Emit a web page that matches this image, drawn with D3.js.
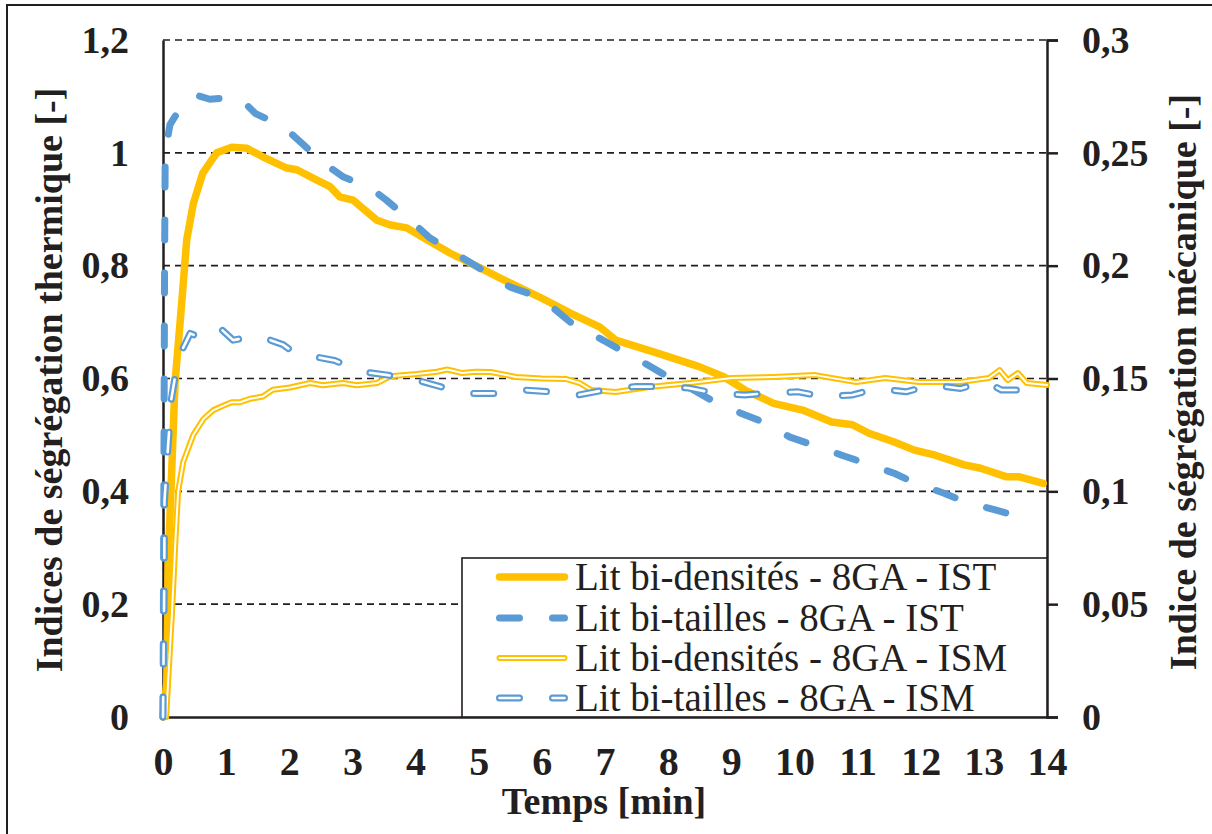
<!DOCTYPE html>
<html>
<head>
<meta charset="utf-8">
<script src="https://cdn.jsdelivr.net/npm/d3@7"></script>
<style>
  html, body { margin: 0; padding: 0; background: #fff; }
  svg { display: block; }
</style>
</head>
<body>
<svg id="chart" width="1212" height="834"></svg>
<script>
// Time axis ticks (minutes) and value ticks for both axes
const timeTicks = [0,1,2,3,4,5,6,7,8,9,10,11,12,13,14];
const leftTicks = [0,0.2,0.4,0.6,0.8,1,1.2];
const rightTicks = [0,0.05,0.1,0.15,0.2,0.25,0.3];

// Series 1: Lit bi-densités - 8GA - IST (left axis)
const tDensIST = [0,0.06,0.08,0.14,0.19,0.3,0.375,0.48,0.63,0.85,1.09,1.33,1.58,1.96,2.12,2.43,2.645,2.8,3.01,3.38,3.6,3.86,4.18,4.55,5.02,5.34,5.97,6.45,6.92,7.17,7.83,8.49,8.88,9.21,9.67,10.13,10.59,10.92,11.18,11.57,11.9,12.23,12.69,12.95,13.35,13.55,13.94];
const densIST  = [0,0.06,0.266,0.443,0.592,0.739,0.845,0.91,0.964,1.0,1.01,1.008,0.993,0.973,0.97,0.952,0.94,0.922,0.916,0.881,0.872,0.867,0.846,0.822,0.796,0.778,0.744,0.716,0.691,0.668,0.645,0.621,0.603,0.58,0.556,0.544,0.523,0.518,0.503,0.488,0.473,0.464,0.447,0.441,0.426,0.426,0.414];

// Series 2: Lit bi-tailles - 8GA - IST (left axis)
const tTailIST = [0,0.015,0.025,0.035,0.11,0.25,0.43,0.53,0.74,1.0,1.22,1.46,1.91,2.17,2.54,2.86,3.28,3.54,3.96,4.23,4.86,5.5,5.97,6.45,7.0,7.63,7.89,8.35,8.68,9.14,9.5,9.93,10.3,10.75,11.12,11.58,11.9,12.36,12.72,13.18,13.64];
const tailIST  = [0,0.45,0.8,1.0,1.05,1.075,1.09,1.102,1.095,1.097,1.097,1.07,1.046,1.02,0.982,0.957,0.938,0.916,0.876,0.849,0.806,0.762,0.744,0.70,0.666,0.627,0.61,0.583,0.562,0.539,0.523,0.496,0.482,0.464,0.45,0.432,0.415,0.397,0.381,0.367,0.353];

// Series 3: Lit bi-densités - 8GA - ISM (right axis)
const tDensISM = [0,0.05,0.14,0.2,0.24,0.32,0.48,0.64,0.8,0.96,1.09,1.22,1.38,1.58,1.74,2.01,2.33,2.53,2.85,3.07,3.39,3.6,4.02,4.34,4.5,4.74,4.95,5.19,5.59,6.0,6.38,6.6,6.78,7.17,7.7,8.35,9.01,9.67,10.33,10.98,11.44,11.97,12.62,13.08,13.25,13.38,13.54,13.68,14.0];
const densISM  = [0,0,0.045,0.08,0.1,0.113,0.125,0.132,0.136,0.138,0.1395,0.1395,0.141,0.142,0.145,0.146,0.148,0.147,0.148,0.147,0.148,0.151,0.152,0.153,0.154,0.1524,0.153,0.1529,0.1507,0.150,0.1498,0.148,0.1449,0.144,0.1462,0.148,0.1502,0.1507,0.1515,0.1484,0.1502,0.1484,0.1484,0.1502,0.1537,0.1493,0.1524,0.148,0.1471];

// Series 4: Lit bi-tailles - 8GA - ISM (right axis)
const tTailISM = [0,0.02,0.024,0.07,0.13,0.24,0.43,0.6,0.71,0.9,1.11,1.3,1.5,1.9,2.1,2.33,2.72,3.15,3.56,4.02,4.42,4.87,5.26,5.73,6.12,6.58,7.0,7.47,7.86,8.32,8.72,9.21,9.6,10.06,10.46,10.92,11.31,11.77,12.17,12.63,13.02,13.28,13.87];
const tailISM  = [0,0.06,0.096,0.1157,0.1405,0.159,0.170,0.168,0.169,0.1724,0.167,0.168,0.169,0.165,0.161,0.160,0.158,0.153,0.1515,0.1493,0.1462,0.1434,0.1434,0.1449,0.1441,0.1427,0.1449,0.1464,0.1464,0.1458,0.1436,0.1427,0.1436,0.1441,0.1419,0.1427,0.1456,0.1441,0.1471,0.1456,0.1486,0.1449,0.1449];

const legendLabels = [
  "Lit bi-densités - 8GA - IST",
  "Lit bi-tailles - 8GA - IST",
  "Lit bi-densités - 8GA - ISM",
  "Lit bi-tailles - 8GA - ISM"
];

const ORANGE = "#FFC000";
const BLUE = "#5B9BD5";
const INK = "#231f20";
const DASH = "20,33";
const SERIF = "'Liberation Serif', 'Times New Roman', serif";

const svg = d3.select("#chart");
const plot = { left: 163, right: 1047, top: 40, bottom: 717 };

const x = d3.scaleLinear().domain([0, 14]).range([plot.left, plot.right]);
const yL = d3.scaleLinear().domain([0, 1.2]).range([plot.bottom, plot.top]);
const yR = d3.scaleLinear().domain([0, 0.3]).range([plot.bottom, plot.top]);

const comma = d => String(d).replace(".", ",");

// Outer frame
svg.append("rect")
  .attr("x", 7).attr("y", 5).attr("width", 1230).attr("height", 850)
  .attr("fill", "none").attr("stroke", INK).attr("stroke-width", 2);

// Dashed horizontal gridlines
svg.append("g")
  .selectAll("line")
  .data(leftTicks.filter(d => d > 0))
  .join("line")
  .attr("x1", plot.left).attr("x2", plot.right)
  .attr("y1", d => yL(d)).attr("y2", d => yL(d))
  .attr("stroke", INK).attr("stroke-width", 1.6)
  .attr("stroke-dasharray", "7,5");

function styleTicks(g, size) {
  g.selectAll("text")
    .attr("font-family", SERIF).attr("font-weight", "bold")
    .attr("font-size", size).attr("fill", INK);
}

// Left axis
const leftAxis = svg.append("g")
  .attr("transform", `translate(${plot.left},0)`)
  .call(d3.axisLeft(yL).tickValues(leftTicks).tickSize(0).tickPadding(34).tickFormat(comma));
leftAxis.select(".domain").attr("stroke", INK).attr("stroke-width", 2.5);
styleTicks(leftAxis, 38);

// Right axis
const rightAxis = svg.append("g")
  .attr("transform", `translate(${plot.right},0)`)
  .call(d3.axisRight(yR).tickValues(rightTicks).tickSize(11).tickPadding(24).tickFormat(comma));
rightAxis.select(".domain").attr("stroke", INK).attr("stroke-width", 2.5);
rightAxis.selectAll(".tick line").attr("stroke", INK).attr("stroke-width", 2.5);
styleTicks(rightAxis, 38);

// Bottom axis
const bottomAxis = svg.append("g")
  .attr("transform", `translate(0,${plot.bottom})`)
  .call(d3.axisBottom(x).tickValues(timeTicks).tickSize(0).tickPadding(30).tickFormat(d3.format("d")));
bottomAxis.select(".domain").attr("stroke", INK).attr("stroke-width", 2.5);
styleTicks(bottomAxis, 40);

// Axis titles
const titles = svg.append("g")
  .attr("font-family", SERIF).attr("font-weight", "bold")
  .attr("font-size", 38).attr("fill", INK).attr("text-anchor", "middle");
titles.append("text")
  .attr("transform", "translate(62,380) rotate(-90)")
  .text("Indices de ségrégation thermique [-]");
titles.append("text")
  .attr("transform", "translate(1196,382) rotate(-90)")
  .text("Indice de ségrégation mécanique [-]");
titles.append("text")
  .attr("x", 604).attr("y", 814)
  .text("Temps [min]");

// Series lines
const pts = (ts, vs) => ts.map((t, i) => [t, vs[i]]);
const lineL = d3.line().x(d => x(d[0])).y(d => yL(d[1]));
const lineR = d3.line().x(d => x(d[0])).y(d => yR(d[1]));
const lines = svg.append("g").attr("fill", "none")
  .attr("stroke-linecap", "round").attr("stroke-linejoin", "round");

lines.append("path").attr("d", lineL(pts(tDensIST, densIST)))
  .attr("stroke", ORANGE).attr("stroke-width", 7.5);

lines.append("path").attr("d", lineL(pts(tTailIST, tailIST)))
  .attr("stroke", BLUE).attr("stroke-width", 7).attr("stroke-dasharray", DASH);

// double (outlined) lines: coloured stroke with a thin white core
const dISM = lineR(pts(tDensISM, densISM));
lines.append("path").attr("d", dISM).attr("stroke", ORANGE).attr("stroke-width", 6);
lines.append("path").attr("d", dISM).attr("stroke", "#fff").attr("stroke-width", 2);

const tISM = lineR(pts(tTailISM, tailISM));
lines.append("path").attr("d", tISM).attr("stroke", BLUE).attr("stroke-width", 7)
  .attr("stroke-dasharray", DASH);
lines.append("path").attr("d", tISM).attr("stroke", "#fff").attr("stroke-width", 2.6)
  .attr("stroke-dasharray", DASH);

// Legend
const legend = svg.append("g");
legend.append("rect")
  .attr("x", 462).attr("y", 558).attr("width", 585).attr("height", 159)
  .attr("fill", "#fff").attr("stroke", INK).attr("stroke-width", 1.6);

const rowY = [577, 618, 658, 698];
const styles = [
  [{ stroke: ORANGE, w: 7.5 }],
  [{ stroke: BLUE, w: 7, dash: DASH }],
  [{ stroke: ORANGE, w: 6 }, { stroke: "#fff", w: 2 }],
  [{ stroke: BLUE, w: 7, dash: DASH }, { stroke: "#fff", w: 2.6, dash: DASH }]
];
legendLabels.forEach((label, i) => {
  styles[i].forEach(s => {
    legend.append("line")
      .attr("x1", 499.5).attr("x2", 564.5)
      .attr("y1", rowY[i]).attr("y2", rowY[i])
      .attr("stroke", s.stroke).attr("stroke-width", s.w)
      .attr("stroke-linecap", "round")
      .attr("stroke-dasharray", s.dash || null);
  });
  legend.append("text")
    .attr("x", 575).attr("y", rowY[i] + 13)
    .attr("font-family", SERIF).attr("font-size", 39).attr("fill", INK)
    .text(label);
});
</script>
</body>
</html>
